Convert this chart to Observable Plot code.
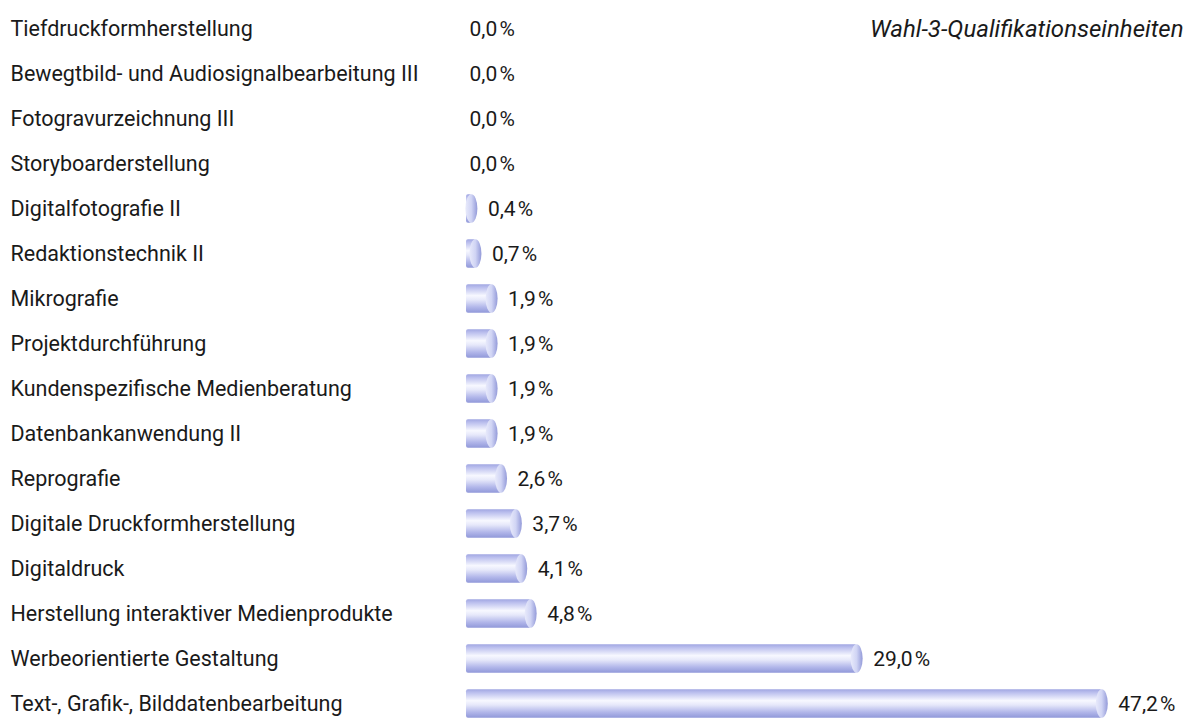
<!DOCTYPE html>
<html><head><meta charset="utf-8">
<script src="https://cdn.jsdelivr.net/npm/d3@7"></script>
<script src="https://cdn.jsdelivr.net/npm/@observablehq/plot@0.6"></script>
<style>
html,body{margin:0;padding:0;background:#fff;overflow:hidden;}
</style>
</head><body>
<div id="chart"></div>
<script>
const title = "Wahl-3-Qualifikationseinheiten";
const categories = [
  "Tiefdruckformherstellung",
  "Bewegtbild- und Audiosignalbearbeitung III",
  "Fotogravurzeichnung III",
  "Storyboarderstellung",
  "Digitalfotografie II",
  "Redaktionstechnik II",
  "Mikrografie",
  "Projektdurchführung",
  "Kundenspezifische Medienberatung",
  "Datenbankanwendung II",
  "Reprografie",
  "Digitale Druckformherstellung",
  "Digitaldruck",
  "Herstellung interaktiver Medienprodukte",
  "Werbeorientierte Gestaltung",
  "Text-, Grafik-, Bilddatenbearbeitung"
];
const values = [0.0, 0.0, 0.0, 0.0, 0.4, 0.7, 1.9, 1.9, 1.9, 1.9, 2.6, 3.7, 4.1, 4.8, 29.0, 47.2];

const data = categories.map((c, i) => ({cat: c, v: values[i]}));
const fmt = v => v.toFixed(1).replace(".", ",") + "\u200A%";
const font = "Roboto, 'Liberation Sans', sans-serif";
const step = 45.4;
const barH = 29;
const inset = (step - barH) / 2;

const chart = Plot.plot({
  width: 1197,
  height: 731,
  marginTop: 0,
  marginBottom: 0,
  marginLeft: 0,
  marginRight: 0,
  style: {fontFamily: font, background: "#fff"},
  x: {domain: [0, 50], range: [466, 466 + 50 * 13.47], axis: null},
  y: {domain: categories, range: [26 - step / 2, 26 + step * 15.5], padding: 0, axis: null},
  marks: [
    Plot.barX(data.filter(d => d.v > 0), {x1: 0, x2: "v", y: "cat", insetTop: inset, insetBottom: inset, fill: "url(#cylBody)", rx: 2}),
    Plot.barX(data.filter(d => d.v > 0), {x1: "v", x2: "v", y: "cat", insetTop: inset, insetBottom: inset, insetLeft: -6, insetRight: -6, rx: 6, ry: 14.5, fill: "url(#cylCap)"}),
    Plot.text(data, {y: "cat", text: "cat", frameAnchor: "left", textAnchor: "start", dx: 10, fontSize: 21.5, fill: "#1a1a1a"}),
    Plot.text(data.filter(d => d.v > 0), {x: "v", y: "cat", text: d => fmt(d.v), textAnchor: "start", dx: 16, fontSize: 21, fill: "#1a1a1a"}),
    Plot.text(data.filter(d => d.v === 0), {x: "v", y: "cat", text: d => fmt(d.v), textAnchor: "start", dx: 3, fontSize: 21, fill: "#1a1a1a"}),
    Plot.text([title], {y: () => categories[0], text: d => d, frameAnchor: "right", textAnchor: "end", dx: -14, fontSize: 24, fontStyle: "italic", fill: "#1a1a1a"})
  ]
});

const svg = d3.select(chart.tagName.toLowerCase() === "svg" ? chart : chart.querySelector("svg"));
const defs = svg.insert("defs", ":first-child");
const gb = defs.append("linearGradient").attr("id", "cylBody").attr("x1", 0).attr("y1", 0).attr("x2", 0).attr("y2", 1);
[[0, "#a0a6e2"], [0.12, "#bcc0ee"], [0.4, "#f7f8ff"], [0.55, "#e6e8fa"], [0.8, "#b2b7ea"], [1, "#9098d9"]]
  .forEach(([o, c]) => gb.append("stop").attr("offset", o).attr("stop-color", c));
const gc = defs.append("linearGradient").attr("id", "cylCap").attr("x1", 0).attr("y1", 0).attr("x2", 1).attr("y2", 0);
[[0, "#e8eafb"], [0.5, "#d0d4f4"], [1, "#939ad9"]]
  .forEach(([o, c]) => gc.append("stop").attr("offset", o).attr("stop-color", c));

document.getElementById("chart").appendChild(chart);
</script>
</body></html>
